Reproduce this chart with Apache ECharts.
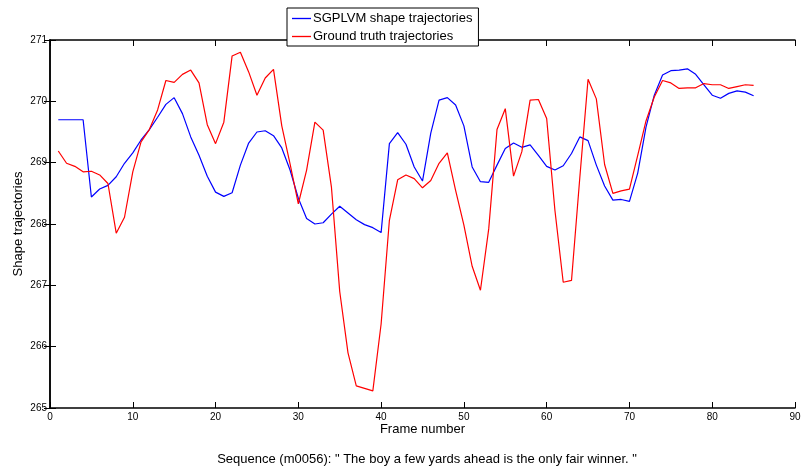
<!DOCTYPE html>
<html>
<head>
<meta charset="utf-8">
<script src="https://cdn.jsdelivr.net/npm/echarts@6/dist/echarts.min.js"></script>
<style>
html,body{margin:0;padding:0;background:#fff;}
#c{width:802px;height:472px;}
</style>
</head>
<body>
<div id="c"></div>
<script>
var frames = [1,2,3,4,5,6,7,8,9,10,11,12,13,14,15,16,17,18,19,20,21,22,23,24,25,26,27,28,29,30,31,32,33,34,35,36,37,38,39,40,41,42,43,44,45,46,47,48,49,50,51,52,53,54,55,56,57,58,59,60,61,62,63,64,65,66,67,68,69,70,71,72,73,74,75,76,77,78,79,80,81,82,83,84,85];
var sgplvm = [269.70,269.70,269.70,269.70,268.44,268.57,268.63,268.77,268.99,269.16,269.37,269.54,269.74,269.95,270.06,269.80,269.42,269.12,268.78,268.52,268.45,268.51,268.96,269.32,269.50,269.52,269.44,269.24,268.88,268.42,268.09,268.00,268.02,268.16,268.29,268.18,268.07,267.99,267.94,267.86,269.31,269.49,269.30,268.93,268.70,269.48,270.02,270.06,269.94,269.60,268.93,268.69,268.68,268.96,269.23,269.32,269.25,269.29,269.12,268.94,268.88,268.95,269.15,269.42,269.36,268.96,268.62,268.39,268.40,268.37,268.83,269.58,270.10,270.43,270.50,270.51,270.53,270.44,270.27,270.10,270.05,270.13,270.17,270.15,270.09];
var groundTruth = [269.19,268.99,268.94,268.85,268.86,268.80,268.66,267.85,268.11,268.85,269.34,269.54,269.86,270.34,270.31,270.44,270.51,270.30,269.62,269.31,269.66,270.74,270.80,270.48,270.10,270.38,270.52,269.60,268.98,268.33,268.88,269.66,269.53,268.60,266.90,265.90,265.36,265.32,265.28,266.37,268.06,268.72,268.80,268.74,268.59,268.71,268.99,269.16,268.55,267.98,267.31,266.92,267.92,269.54,269.88,268.78,269.18,270.02,270.03,269.72,268.22,267.05,267.08,268.75,270.36,270.04,268.97,268.50,268.54,268.57,269.12,269.68,270.07,270.34,270.30,270.21,270.22,270.22,270.29,270.27,270.27,270.21,270.24,270.27,270.26];
var seriesNames = ['SGPLVM shape trajectories', 'Ground truth trajectories'];
var xAxisTitle = 'Frame number';
var yAxisTitle = 'Shape trajectories';
var caption = 'Sequence (m0056): " The boy a few yards ahead is the only fair winner. "';

function pairs(xs, ys){ var out=[]; for(var i=0;i<xs.length;i++){ out.push([xs[i], ys[i]]); } return out; }

var tickFont = {fontFamily:'"Liberation Sans Narrow","Liberation Sans",Arial,sans-serif', fontSize:10, color:'#000'};
var axisLine = {show:true, lineStyle:{color:'#000', width:1.5}};
var tick = {show:true, inside:true, length:6, lineStyle:{color:'#000', width:1}};

var chart = echarts.init(document.getElementById('c'), null, {renderer:'canvas'});
chart.setOption({
  animation:false,
  backgroundColor:'#fff',
  textStyle:{fontFamily:'"Liberation Sans",Arial,sans-serif'},
  title:{
    text: caption,
    left: 422, top: 448, textAlign:'center',
    textStyle:{fontSize:13, fontWeight:'normal', color:'#000', fontFamily:'"Liberation Sans",Arial,sans-serif'}
  },
  legend:{
    orient:'vertical', left:287, top:8,
    backgroundColor:'#fff', borderColor:'#000', borderWidth:1,
    padding:[4,6,3,5], itemGap:5, itemWidth:19, itemHeight:1.4,
    icon:'path://M0,0H20V1.4H0Z',
    textStyle:{fontSize:13, color:'#000', fontFamily:'"Liberation Sans",Arial,sans-serif', padding:[0,0,0,-3]},
    data: seriesNames, z:10
  },
  grid:{left:50, right:7, top:40, bottom:64, show:false, containLabel:false, outerBoundsMode:'none'},
  xAxis:[{
    type:'value', min:0, max:90, interval:10, position:'bottom',
    name: xAxisTitle, nameLocation:'middle', nameGap:15, nameMoveOverlap:false,
    nameTextStyle:{fontSize:13, color:'#000', fontFamily:'"Liberation Sans",Arial,sans-serif'},
    axisLine:axisLine, axisTick:tick, splitLine:{show:false},
    axisLabel:Object.assign({margin:4}, tickFont)
  },{
    type:'value', min:0, max:90, interval:10, position:'top',
    axisLine:axisLine, axisTick:tick, splitLine:{show:false}, axisLabel:{show:false}
  }],
  yAxis:[{
    type:'value', min:265, max:271, interval:1, position:'left',
    name: yAxisTitle, nameLocation:'middle', nameGap:25, nameMoveOverlap:false,
    nameTextStyle:{fontSize:13, color:'#000', fontFamily:'"Liberation Sans",Arial,sans-serif'},
    axisLine:axisLine, axisTick:tick, splitLine:{show:false},
    axisLabel:Object.assign({margin:3}, tickFont)
  },{
    type:'value', min:265, max:271, interval:1, position:'right',
    axisLine:axisLine, axisTick:tick, splitLine:{show:false}, axisLabel:{show:false}
  }],
  series:[{
    name: seriesNames[0], type:'line', xAxisIndex:0, yAxisIndex:0,
    data: pairs(frames, sgplvm), symbol:'none', color:'#0000ff',
    lineStyle:{width:1.2, color:'#0000ff'}
  },{
    name: seriesNames[1], type:'line', xAxisIndex:0, yAxisIndex:0,
    data: pairs(frames, groundTruth), symbol:'none', color:'#ff0000',
    lineStyle:{width:1.2, color:'#ff0000'}
  }]
});
</script>
</body>
</html>
